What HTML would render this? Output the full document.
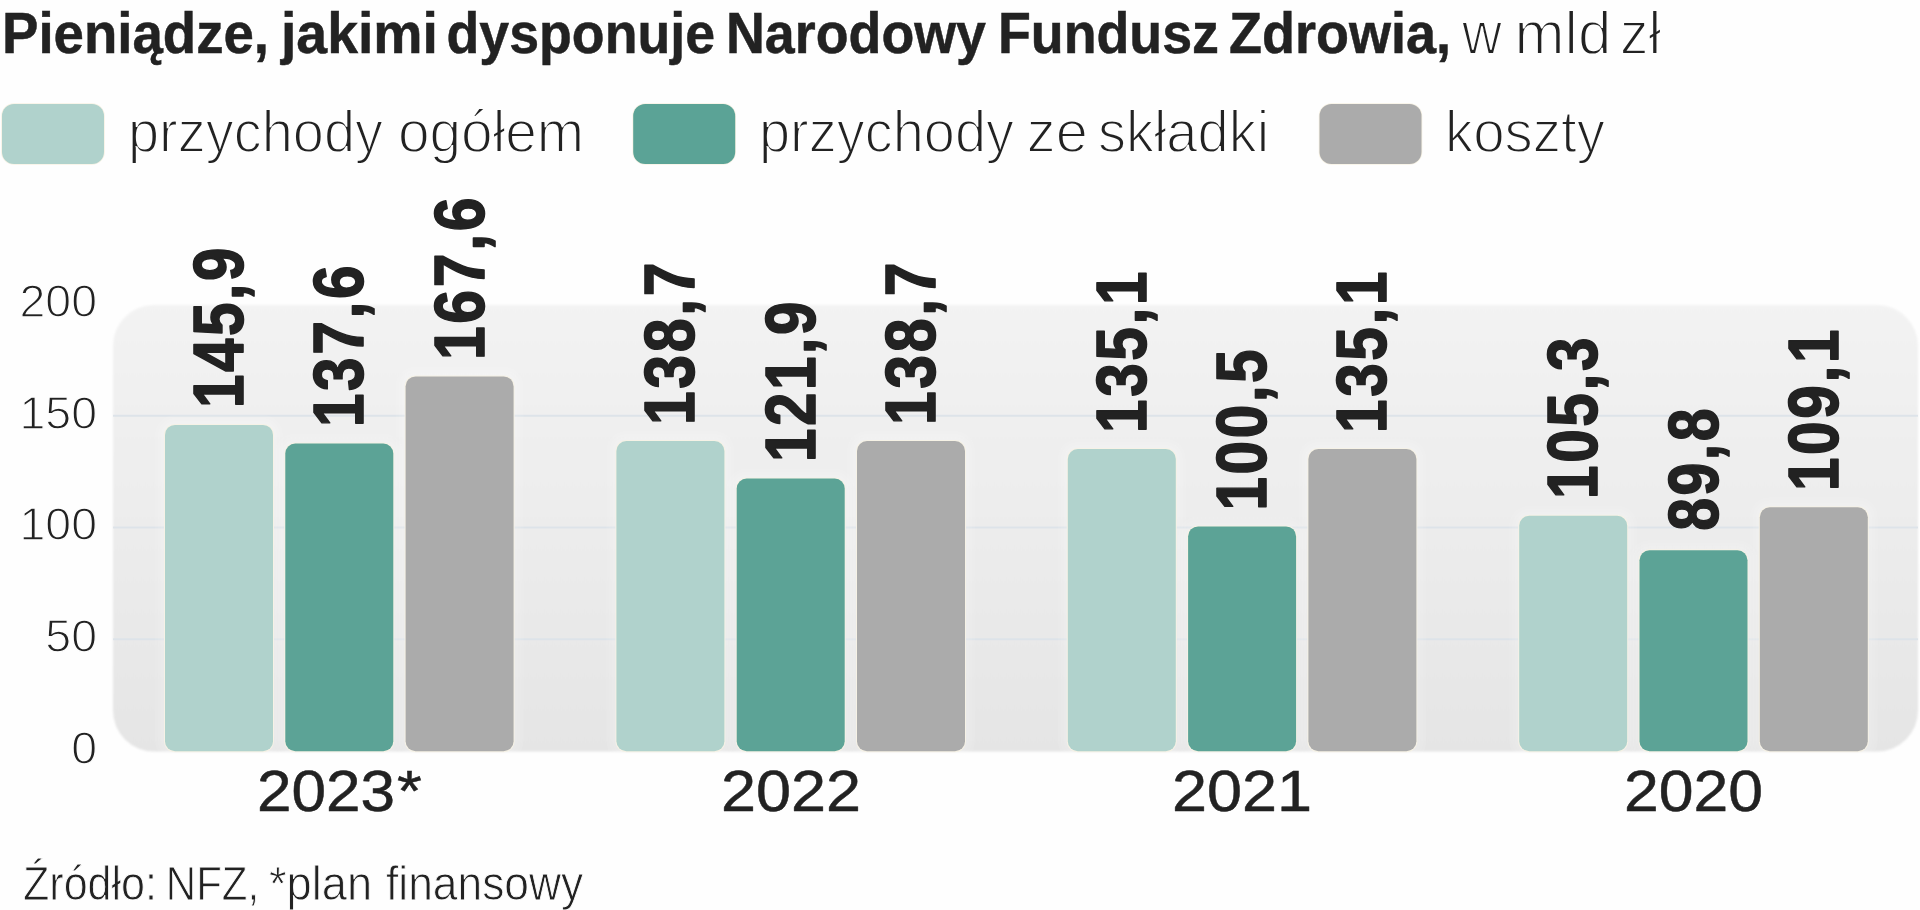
<!DOCTYPE html>
<html lang="pl"><head><meta charset="utf-8"><title>Pieniądze, jakimi dysponuje Narodowy Fundusz Zdrowia</title>
<style>
html,body{margin:0;padding:0;background:#fefefe;}
svg{display:block;will-change:transform}
text{font-family:"Liberation Sans",sans-serif;fill:#222222}
.b{font-weight:bold;stroke:#222222;stroke-width:0.5px}
.bb{font-weight:bold;stroke:#222222;stroke-width:1.6px;stroke-linejoin:round;letter-spacing:3px}
.l{stroke:#fefefe;stroke-width:1.8px;paint-order:fill stroke}
.ly{stroke:#fefefe;stroke-width:1.3px;paint-order:fill stroke}
.ls{stroke:#fefefe;stroke-width:0.9px;paint-order:fill stroke}
.m{stroke:#222222;stroke-width:0.5px}

body{width:1920px;height:910px;overflow:hidden;}
</style></head><body>
<svg width="1920" height="910" viewBox="0 0 1920 910">
<defs>
<linearGradient id="pg" x1="0" y1="0" x2="0" y2="1">
<stop offset="0" stop-color="#f3f3f3"/><stop offset="1" stop-color="#e5e5e5"/>
</linearGradient>
<filter id="soft" x="-5%" y="-5%" width="110%" height="110%"><feGaussianBlur stdDeviation="1.1"/></filter>
<filter id="edge" x="-10%" y="-10%" width="120%" height="120%"><feGaussianBlur stdDeviation="0.55"/></filter>
</defs>
<rect width="1920" height="910" fill="#fefefe"/>
<!-- title -->
<text class="b" x="1.97" y="53" font-size="57.2" textLength="267.06" lengthAdjust="spacingAndGlyphs">Pieniądze,</text>
<text class="b" x="280.99" y="53" font-size="57.2" textLength="156.98" lengthAdjust="spacingAndGlyphs">jakimi</text>
<text class="b" x="446.5" y="53" font-size="57.2" textLength="268.51" lengthAdjust="spacingAndGlyphs">dysponuje</text>
<text class="b" x="726.0" y="53" font-size="57.2" textLength="260.01" lengthAdjust="spacingAndGlyphs">Narodowy</text>
<text class="b" x="997.99" y="53" font-size="57.2" textLength="221.02" lengthAdjust="spacingAndGlyphs">Fundusz</text>
<text class="b" x="1228.99" y="53" font-size="57.2" textLength="222.03" lengthAdjust="spacingAndGlyphs">Zdrowia,</text>
<text class="l" x="1462.05" y="54" font-size="62" textLength="39.9" lengthAdjust="spacingAndGlyphs">w</text>
<text class="l" x="1514.62" y="54" font-size="62" textLength="96.75" lengthAdjust="spacingAndGlyphs">mld</text>
<text class="l" x="1620.0" y="54" font-size="62" textLength="41.0" lengthAdjust="spacingAndGlyphs">zł</text>
<!-- legend -->
<rect x="2" y="104" width="102" height="60" rx="12" fill="#b0d2cc" stroke="#f7f2e4" stroke-width="1.6" paint-order="stroke"/>
<rect x="633.2" y="104" width="102" height="60" rx="12" fill="#5ba396" stroke="#f7f2e4" stroke-width="1.6" paint-order="stroke"/>
<rect x="1319.5" y="104" width="102" height="60" rx="12" fill="#ababab" stroke="#f7f2e4" stroke-width="1.6" paint-order="stroke"/>
<text class="l" x="127.94" y="152" font-size="60" textLength="255.09" lengthAdjust="spacingAndGlyphs">przychody</text>
<text class="l" x="397.93" y="152" font-size="60" textLength="186.18" lengthAdjust="spacingAndGlyphs">ogółem</text>
<text class="l" x="758.95" y="152" font-size="60" textLength="255.07" lengthAdjust="spacingAndGlyphs">przychody</text>
<text class="l" x="1026.84" y="152" font-size="60" textLength="60.87" lengthAdjust="spacingAndGlyphs">ze</text>
<text class="l" x="1097.93" y="152" font-size="60" textLength="171.17" lengthAdjust="spacingAndGlyphs">składki</text>
<text class="l" x="1444.9" y="152" font-size="60" textLength="160.14" lengthAdjust="spacingAndGlyphs">koszty</text>
<!-- plot area -->
<rect x="113" y="305" width="1805" height="446.5" rx="41" fill="url(#pg)" filter="url(#soft)"/>
<rect x="113" y="638.25" width="1805" height="2" fill="#dde3e9"/>
<rect x="113" y="526.50" width="1805" height="2" fill="#dde3e9"/>
<rect x="113" y="414.75" width="1805" height="2" fill="#dde3e9"/>
<!-- y axis -->
<text class="ly" x="97" y="763.8" font-size="46.5" text-anchor="end">0</text>
<text class="ly" x="97" y="652.0" font-size="46.5" text-anchor="end">50</text>
<text class="ly" x="97" y="540.3" font-size="46.5" text-anchor="end">100</text>
<text class="ly" x="97" y="428.6" font-size="46.5" text-anchor="end">150</text>
<text class="ly" x="97" y="316.8" font-size="46.5" text-anchor="end">200</text>
<!-- bars + value labels -->
<g fill="none" stroke="#ffffff" stroke-opacity="0.08">
<rect x="165.0" y="424.9" width="108" height="326.1" rx="10" stroke-width="8"/>
<rect x="165.0" y="424.9" width="108" height="326.1" rx="10" stroke-width="14"/>
<rect x="165.0" y="424.9" width="108" height="326.1" rx="10" stroke-width="20"/>
<rect x="285.3" y="443.5" width="108" height="307.5" rx="10" stroke-width="8"/>
<rect x="285.3" y="443.5" width="108" height="307.5" rx="10" stroke-width="14"/>
<rect x="285.3" y="443.5" width="108" height="307.5" rx="10" stroke-width="20"/>
<rect x="405.6" y="376.4" width="108" height="374.6" rx="10" stroke-width="8"/>
<rect x="405.6" y="376.4" width="108" height="374.6" rx="10" stroke-width="14"/>
<rect x="405.6" y="376.4" width="108" height="374.6" rx="10" stroke-width="20"/>
<rect x="616.4" y="441.0" width="108" height="310.0" rx="10" stroke-width="8"/>
<rect x="616.4" y="441.0" width="108" height="310.0" rx="10" stroke-width="14"/>
<rect x="616.4" y="441.0" width="108" height="310.0" rx="10" stroke-width="20"/>
<rect x="736.7" y="478.6" width="108" height="272.4" rx="10" stroke-width="8"/>
<rect x="736.7" y="478.6" width="108" height="272.4" rx="10" stroke-width="14"/>
<rect x="736.7" y="478.6" width="108" height="272.4" rx="10" stroke-width="20"/>
<rect x="857.0" y="441.0" width="108" height="310.0" rx="10" stroke-width="8"/>
<rect x="857.0" y="441.0" width="108" height="310.0" rx="10" stroke-width="14"/>
<rect x="857.0" y="441.0" width="108" height="310.0" rx="10" stroke-width="20"/>
<rect x="1067.8" y="449.1" width="108" height="301.9" rx="10" stroke-width="8"/>
<rect x="1067.8" y="449.1" width="108" height="301.9" rx="10" stroke-width="14"/>
<rect x="1067.8" y="449.1" width="108" height="301.9" rx="10" stroke-width="20"/>
<rect x="1188.1" y="526.4" width="108" height="224.6" rx="10" stroke-width="8"/>
<rect x="1188.1" y="526.4" width="108" height="224.6" rx="10" stroke-width="14"/>
<rect x="1188.1" y="526.4" width="108" height="224.6" rx="10" stroke-width="20"/>
<rect x="1308.4" y="449.1" width="108" height="301.9" rx="10" stroke-width="8"/>
<rect x="1308.4" y="449.1" width="108" height="301.9" rx="10" stroke-width="14"/>
<rect x="1308.4" y="449.1" width="108" height="301.9" rx="10" stroke-width="20"/>
<rect x="1519.2" y="515.7" width="108" height="235.3" rx="10" stroke-width="8"/>
<rect x="1519.2" y="515.7" width="108" height="235.3" rx="10" stroke-width="14"/>
<rect x="1519.2" y="515.7" width="108" height="235.3" rx="10" stroke-width="20"/>
<rect x="1639.5" y="550.3" width="108" height="200.7" rx="10" stroke-width="8"/>
<rect x="1639.5" y="550.3" width="108" height="200.7" rx="10" stroke-width="14"/>
<rect x="1639.5" y="550.3" width="108" height="200.7" rx="10" stroke-width="20"/>
<rect x="1759.8" y="507.2" width="108" height="243.8" rx="10" stroke-width="8"/>
<rect x="1759.8" y="507.2" width="108" height="243.8" rx="10" stroke-width="14"/>
<rect x="1759.8" y="507.2" width="108" height="243.8" rx="10" stroke-width="20"/>
</g>
<g stroke="#f6f2e6" stroke-width="2" paint-order="stroke" filter="url(#edge)">
<rect x="165.0" y="424.9" width="108" height="326.4" rx="10" fill="#b0d2cc"/>
<rect x="285.3" y="443.5" width="108" height="307.8" rx="10" fill="#5ba396"/>
<rect x="405.6" y="376.4" width="108" height="374.9" rx="10" fill="#ababab"/>
<rect x="616.4" y="441.0" width="108" height="310.3" rx="10" fill="#b0d2cc"/>
<rect x="736.7" y="478.6" width="108" height="272.7" rx="10" fill="#5ba396"/>
<rect x="857.0" y="441.0" width="108" height="310.3" rx="10" fill="#ababab"/>
<rect x="1067.8" y="449.1" width="108" height="302.2" rx="10" fill="#b0d2cc"/>
<rect x="1188.1" y="526.4" width="108" height="224.9" rx="10" fill="#5ba396"/>
<rect x="1308.4" y="449.1" width="108" height="302.2" rx="10" fill="#ababab"/>
<rect x="1519.2" y="515.7" width="108" height="235.6" rx="10" fill="#b0d2cc"/>
<rect x="1639.5" y="550.3" width="108" height="201.0" rx="10" fill="#5ba396"/>
<rect x="1759.8" y="507.2" width="108" height="244.1" rx="10" fill="#ababab"/>
</g>
<text class="bb" transform="translate(243.0,408.06) rotate(-90)" font-size="70" textLength="163.14" lengthAdjust="spacingAndGlyphs">145,9</text>
<text class="bb" transform="translate(363.3,427.08) rotate(-90)" font-size="70" textLength="164.17" lengthAdjust="spacingAndGlyphs">137,6</text>
<text class="bb" transform="translate(483.6,360.08) rotate(-90)" font-size="70" textLength="165.17" lengthAdjust="spacingAndGlyphs">167,6</text>
<text class="bb" transform="translate(694.4,425.06) rotate(-90)" font-size="70" textLength="165.16" lengthAdjust="spacingAndGlyphs">138,7</text>
<text class="bb" transform="translate(814.7,462.06) rotate(-90)" font-size="70" textLength="163.14" lengthAdjust="spacingAndGlyphs">121,9</text>
<text class="bb" transform="translate(935.0,425.06) rotate(-90)" font-size="70" textLength="165.16" lengthAdjust="spacingAndGlyphs">138,7</text>
<text class="bb" transform="translate(1145.8,433.06) rotate(-90)" font-size="70" textLength="164.15" lengthAdjust="spacingAndGlyphs">135,1</text>
<text class="bb" transform="translate(1266.1,510.47) rotate(-90)" font-size="70" textLength="163.53" lengthAdjust="spacingAndGlyphs">100,5</text>
<text class="bb" transform="translate(1386.4,433.06) rotate(-90)" font-size="70" textLength="164.15" lengthAdjust="spacingAndGlyphs">135,1</text>
<text class="bb" transform="translate(1597.2,499.06) rotate(-90)" font-size="70" textLength="164.14" lengthAdjust="spacingAndGlyphs">105,3</text>
<text class="bb" transform="translate(1717.5,530.81) rotate(-90)" font-size="70" textLength="124.84" lengthAdjust="spacingAndGlyphs">89,8</text>
<text class="bb" transform="translate(1837.8,491.08) rotate(-90)" font-size="70" textLength="164.18" lengthAdjust="spacingAndGlyphs">109,1</text>
<!-- x axis -->
<text class="m" x="256.98" y="811" font-size="57" textLength="138.04" lengthAdjust="spacingAndGlyphs">2023</text>
<text class="m" x="397.08" y="811" font-size="57" textLength="24.84" lengthAdjust="spacingAndGlyphs">*</text>
<text class="m" x="720.95" y="811" font-size="57" textLength="140.09" lengthAdjust="spacingAndGlyphs">2022</text>
<text class="m" x="1171.95" y="811" font-size="57" textLength="140.09" lengthAdjust="spacingAndGlyphs">2021</text>
<text class="m" x="1623.98" y="811" font-size="57" textLength="139.04" lengthAdjust="spacingAndGlyphs">2020</text>
<!-- source -->
<text class="ls" x="22.98" y="899.5" font-size="47.5" textLength="134.07" lengthAdjust="spacingAndGlyphs">Źródło:</text>
<text class="ls" x="165.8" y="899.5" font-size="47.5" textLength="93.4" lengthAdjust="spacingAndGlyphs">NFZ,</text>
<text class="ls" x="268.98" y="899.5" font-size="47.5" textLength="103.07" lengthAdjust="spacingAndGlyphs">*plan</text>
<text class="ls" x="386.01" y="899.5" font-size="47.5" textLength="197.18" lengthAdjust="spacingAndGlyphs">finansowy</text>
</svg></body></html>
